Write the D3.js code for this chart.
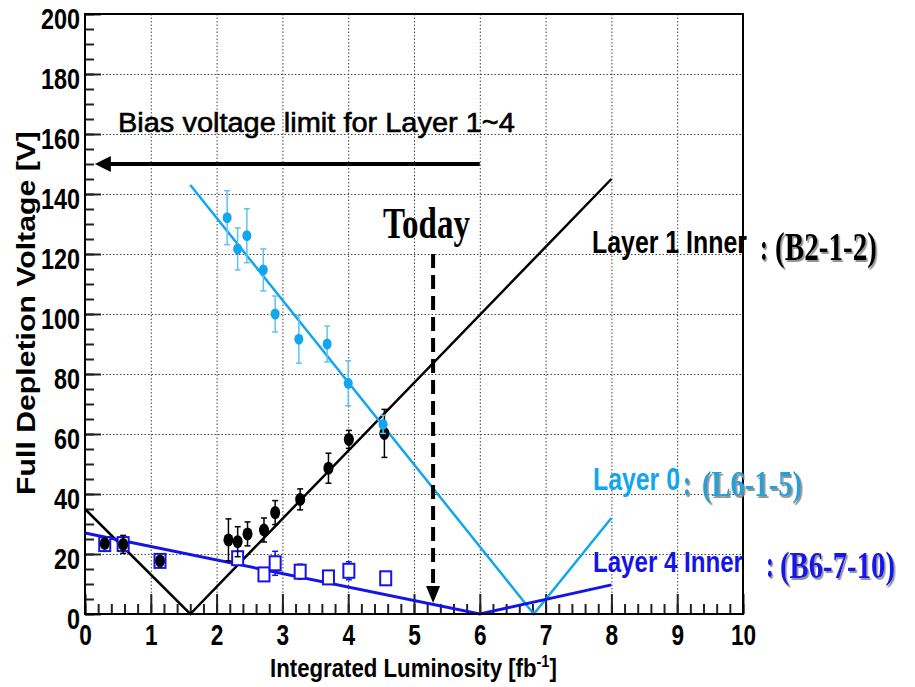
<!DOCTYPE html>
<html lang="en">
<head>
    <meta charset="UTF-8">
    <title>Full depletion voltage</title>
    <script src="https://cdn.jsdelivr.net/npm/d3@7/dist/d3.min.js"></script>
    <style>
        body {
            margin: 0;
            background: #fff;
        }
        svg {
            display: block;
            font-family: "Liberation Sans", Arial, sans-serif;
        }
        .grid line {
            stroke: #444;
            stroke-dasharray: 1.5 2;
            stroke-width: 1;
        }
        .grid path {
            display: none;
        }
        .ticks path {
            display: none;
        }
        .ticks line {
            stroke: #222;
            stroke-width: 2;
        }
        .serif {
            font-family: "Liberation Serif", "Times New Roman", serif;
        }
    </style>
</head>
<body>
<svg width="915" height="687"></svg>

<script>
    // Layer 1 Inner (B2-1-2), filled black circles
    var l1Lumi = [0.30, 0.58, 1.14, 2.18, 2.32, 2.47, 2.72, 2.89, 3.27, 3.70, 4.01, 4.55];
    var l1Volt = [23.5, 23.2, 17.7, 24.7, 24.1, 26.7, 28.0, 33.8, 38.2, 48.6, 58.2, 60.2];
    var l1Err = [1.5, 3, 1, 7, 5, 4, 4, 4, 3.5, 5, 3, 8];

    // Layer 0 (L6-1-5), filled light blue circles
    var l0Lumi = [2.16, 2.32, 2.46, 2.71, 2.89, 3.25, 3.68, 4.00, 4.53];
    var l0Volt = [132.1, 121.7, 126.1, 114.7, 100.0, 91.6, 90.0, 76.9, 63.2];
    var l0Err = [9, 7, 9, 7, 6, 8, 6, 7.5, 3];

    // Layer 4 Inner (B6-7-10), open blue squares
    var l4Lumi = [0.30, 0.58, 1.14, 2.32, 2.72, 2.89, 3.27, 3.70, 4.01, 4.57];
    var l4Volt = [23.3, 23.3, 17.7, 18.6, 13.2, 16.9, 14.1, 12.2, 14.4, 11.9];
    var l4Err = [1, 1, 1, 2, 2, 4, 2.5, 1.5, 3, 2];

    // fitted V-shaped lines [lumi, volt]
    var l1Fit = [[0, 35], [1.6, 0], [8, 145]];
    var l0Fit = [[1.6, 143], [6.82, 0], [8, 32]];
    var l4Fit = [[0, 27], [6.0, 0], [8, 9.7]];

    var xMajor = d3.range(0, 11, 1);
    var xMinor = d3.range(0, 10.01, 0.2);
    var yMajor = d3.range(0, 201, 20);
    var yMinor = d3.range(0, 201, 5);

    var biasLimit = 150;        // V
    var biasFrom = 6, biasTo = 0.15;
    var today = 5.29;           // fb-1
    var todayTop = 120, todayTip = 3.7;

    var lightBlue = '#12a6ee';
    var blue = '#1414e8';

    var svg = d3.select('svg');
    var x = d3.scaleLinear().domain([0, 10]).range([85, 743]);
    var y = d3.scaleLinear().domain([0, 200]).range([614, 14]);
    var sq = 0.78; // horizontal squeeze of all lettering

    // grey drop shadow for the serif module names
    var f = svg.append('defs').append('filter').attr('id', 'shadow')
        .attr('x', '-10%').attr('y', '-10%').attr('width', '130%').attr('height', '130%');
    f.append('feDropShadow')
        .attr('dx', 2).attr('dy', 2).attr('stdDeviation', 0.7)
        .attr('flood-color', '#888').attr('flood-opacity', 0.9);

    // grid
    svg.append('g').attr('class', 'grid')
        .attr('transform', 'translate(0,614)')
        .call(d3.axisBottom(x).tickValues(xMajor.slice(1, 10)).tickSize(-600).tickFormat(''));
    svg.append('g').attr('class', 'grid')
        .attr('transform', 'translate(85,0)')
        .call(d3.axisLeft(y).tickValues(yMajor.slice(1, 10)).tickSize(-658).tickFormat(''));

    // ticks
    svg.append('g').attr('class', 'ticks')
        .attr('transform', 'translate(0,614)')
        .call(d3.axisBottom(x).tickValues(xMinor).tickSize(-10).tickFormat(''));
    var xAxis = svg.append('g').attr('class', 'ticks')
        .attr('transform', 'translate(0,614)')
        .call(d3.axisBottom(x).tickValues(xMajor).tickSize(-20).tickFormat(d3.format('d')));
    svg.append('g').attr('class', 'ticks')
        .attr('transform', 'translate(85,0)')
        .call(d3.axisLeft(y).tickValues(yMinor).tickSize(-9).tickFormat(''));
    var yAxis = svg.append('g').attr('class', 'ticks')
        .attr('transform', 'translate(85,0)')
        .call(d3.axisLeft(y).tickValues(yMajor).tickSize(-16).tickFormat(d3.format('d')));

    xAxis.selectAll('text')
        .attr('y', 0).attr('dy', 0)
        .attr('transform', 'translate(0,31) scale(' + sq + ',1)')
        .style('font-size', '29px').style('font-weight', 'bold').attr('fill', '#000')
        .style('font-family', '"Liberation Sans", Arial, sans-serif');
    yAxis.selectAll('text')
        .attr('x', 0).attr('dy', 0)
        .attr('transform', 'translate(-5,14) scale(' + sq + ',1)')
        .style('font-size', '30px').style('font-weight', 'bold').attr('fill', '#000')
        .style('font-family', '"Liberation Sans", Arial, sans-serif');

    // fit lines
    var line = d3.line()
        .x(function (d) { return x(d[0]); })
        .y(function (d) { return y(d[1]); });
    svg.append('path').datum(l1Fit).attr('d', line)
        .attr('fill', 'none').attr('stroke', '#000').attr('stroke-width', 2.5);
    svg.append('path').datum(l0Fit).attr('d', line)
        .attr('fill', 'none').attr('stroke', lightBlue).attr('stroke-width', 2.5);
    svg.append('path').datum(l4Fit).attr('d', line)
        .attr('fill', 'none').attr('stroke', blue).attr('stroke-width', 3);

    function points(lumi, volt, err) {
        return lumi.map(function (d, i) {
            return {x: d, v: volt[i], e: err[i]};
        });
    }

    function errorBars(data, color) {
        var g = svg.append('g').attr('stroke', color).attr('stroke-width', 1.5);
        g.selectAll('line.bar').data(data).enter().append('line')
            .attr('x1', function (d) { return x(d.x); })
            .attr('x2', function (d) { return x(d.x); })
            .attr('y1', function (d) { return y(d.v - d.e); })
            .attr('y2', function (d) { return y(d.v + d.e); });
        [-1, 1].forEach(function (s) {
            g.selectAll('line.cap' + s).data(data).enter().append('line')
                .attr('x1', function (d) { return x(d.x) - 3; })
                .attr('x2', function (d) { return x(d.x) + 3; })
                .attr('y1', function (d) { return y(d.v + s * d.e); })
                .attr('y2', function (d) { return y(d.v + s * d.e); });
        });
    }

    var l4 = points(l4Lumi, l4Volt, l4Err);
    var l1 = points(l1Lumi, l1Volt, l1Err);
    var l0 = points(l0Lumi, l0Volt, l0Err);

    errorBars(l4, blue);
    svg.append('g').selectAll('rect').data(l4).enter().append('rect')
        .attr('x', function (d) { return x(d.x) - 5.5; })
        .attr('y', function (d) { return y(d.v) - 7; })
        .attr('width', 11).attr('height', 14)
        .attr('fill', '#fff').attr('stroke', blue).attr('stroke-width', 2);

    errorBars(l1, '#000');
    svg.append('g').selectAll('ellipse').data(l1).enter().append('ellipse')
        .attr('cx', function (d) { return x(d.x); })
        .attr('cy', function (d) { return y(d.v); })
        .attr('rx', 5).attr('ry', 6.5).attr('fill', '#000');

    errorBars(l0, '#5cc4f4');
    svg.append('g').selectAll('ellipse').data(l0).enter().append('ellipse')
        .attr('cx', function (d) { return x(d.x); })
        .attr('cy', function (d) { return y(d.v); })
        .attr('rx', 4.5).attr('ry', 5.5).attr('fill', lightBlue);

    // frame
    svg.append('rect')
        .attr('x', x(0)).attr('y', y(200))
        .attr('width', x(10) - x(0)).attr('height', y(0) - y(200))
        .attr('fill', 'none').attr('stroke', '#000').attr('stroke-width', 2);

    // bias voltage limit arrow
    svg.append('line')
        .attr('x1', x(biasFrom)).attr('x2', x(biasTo) + 14)
        .attr('y1', y(biasLimit)).attr('y2', y(biasLimit))
        .attr('stroke', '#000').attr('stroke-width', 4);
    svg.append('path')
        .attr('d', 'M' + x(biasTo) + ',' + y(biasLimit) + 'l16,-8v16z')
        .attr('fill', '#000');

    // today arrow
    svg.append('line')
        .attr('x1', x(today)).attr('x2', x(today))
        .attr('y1', y(todayTop)).attr('y2', y(todayTip) - 14)
        .attr('stroke', '#000').attr('stroke-width', 4)
        .attr('stroke-dasharray', '14 7');
    svg.append('path')
        .attr('d', 'M' + x(today) + ',' + y(todayTip) + 'l-7,-17h14z')
        .attr('fill', '#000');

    // text squeezed horizontally to a given width
    function label(px, py, str, opts) {
        var t = svg.append('text')
            .attr('class', opts.serif ? 'serif' : null)
            .attr('filter', opts.shadow ? 'url(#shadow)' : null)
            .style('font-size', opts.size + 'px')
            .style('font-weight', opts.weight || 'bold')
            .attr('fill', opts.fill || '#000')
            .text(str);
        var k = opts.width / t.node().getComputedTextLength();
        t.attr('transform', 'translate(' + px + ',' + py + ') scale(' + k + ',1)');
        return t;
    }

    label(118, 132, 'Bias voltage limit for Layer 1~4', {size: 28, width: 397, weight: 'normal'})
        .attr('stroke', '#000').attr('stroke-width', 0.6);
    label(383, 238, 'Today', {serif: true, size: 45, width: 87});

    label(592, 253, 'Layer 1 Inner', {size: 31, width: 155});
    label(760, 260, ':', {serif: true, shadow: true, size: 38, width: 8});
    label(775, 260, '(B2-1-2)', {serif: true, shadow: true, size: 39, width: 102});

    label(593, 490, 'Layer 0', {size: 31, width: 87, fill: lightBlue});
    label(683, 495, ':', {serif: true, shadow: true, size: 35, width: 8, fill: '#2a9fd4'});
    label(702, 496, '(L6-1-5)', {serif: true, shadow: true, size: 35, width: 100, fill: '#2a9fd4'});

    label(593, 572, 'Layer 4 Inner', {size: 29, width: 150, fill: blue});
    label(766, 577, ':', {serif: true, shadow: true, size: 37, width: 8, fill: blue});
    label(780, 578, '(B6-7-10)', {serif: true, shadow: true, size: 38, width: 115, fill: blue});

    // axis titles
    var xt = svg.append('text')
        .style('font-size', '26px').style('font-weight', 'bold');
    xt.append('tspan').text('Integrated Luminosity [fb');
    xt.append('tspan').attr('dy', -10).style('font-size', '17px').text('-1');
    xt.append('tspan').attr('dy', 10).text(']');
    var k = 287 / xt.node().getComputedTextLength();
    xt.attr('transform', 'translate(270,677) scale(' + k + ',1)');

    var yt = svg.append('text')
        .attr('text-anchor', 'middle')
        .style('font-size', '25px').style('font-weight', 'bold')
        .text('Full Depletion Voltage [V]');
    var ky = 364 / yt.node().getComputedTextLength();
    yt.attr('transform', 'translate(35,313) rotate(-90) scale(' + ky + ',1)');
</script>
</body>
</html>
